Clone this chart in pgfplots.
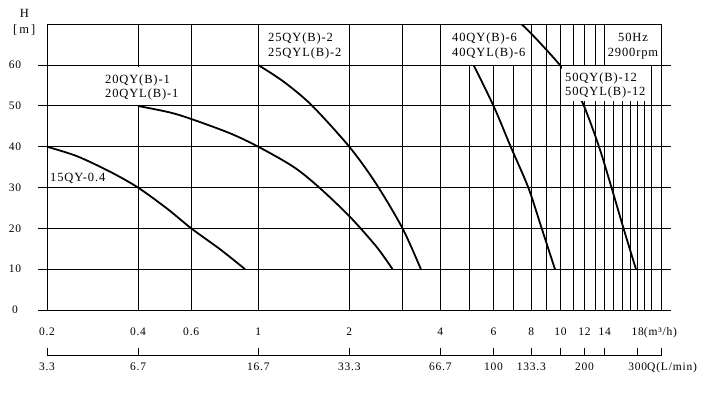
\documentclass[border=0pt]{standalone}
\usepackage{fontspec}
\setmainfont{Liberation Serif}[LetterSpace=7]
\usepackage{pgfplots}
\pgfplotsset{compat=1.18}

\begin{document}
\begin{tikzpicture}
\useasboundingbox (-47pt,-85pt) rectangle (674pt,310pt);
\begin{axis}[
  scale only axis, width=614.7pt, height=285.7pt,
  xmode=log, xmin=0.2, xmax=21.6, ymin=0, ymax=70,
  xtick={0.2,0.4,0.6,1,2,3,4,5,6,7,8,9,10,11,12,13,14,15,16,17,18,19,20},
  xticklabels={0.2,0.4,0.6,1,2,,4,,6,,8,,10,,12,,14,,,,18\rlap{(m³/h)},,},
  ytick={0,10,...,60},
  grid=major, major grid style={black, line width=0.9pt},
  axis line style={black, line width=0.9pt},
  xtick style={draw=none},
  ytick style={black, line width=0.9pt},
  tick align=outside, major tick length=9pt,
  /pgf/number format/assume math mode=true,
  tick label style={font=\fontsize{11.5}{13}\selectfont},
  xticklabel style={anchor=base, yshift=-16.5pt},
  yticklabel style={anchor=center, xshift=-23pt},
]
% 15QY-0.4
\addplot[black, line width=1.8pt, smooth] coordinates {
  (0.2,40) (0.251,37.7) (0.323,33.9) (0.4,30) (0.5,24.8) (0.6,20) (0.75,14.8) (0.904,10)};
% 20QY(B)-1
\addplot[black, line width=1.8pt, smooth] coordinates {
  (0.4,50) (0.51,48.4) (0.6,46.8) (0.806,43.3) (1,40) (1.306,35.1) (1.58,30.2) (2,23) (2.46,15.5) (2.78,10)};
% 25QY(B)-2
\addplot[black, line width=1.8pt, smooth] coordinates {
  (1,60) (1.21,56) (1.5,50.2) (2,40) (2.45,31) (3,20) (3.45,10)};
% 40QY(B)-6
\addplot[black, line width=1.8pt, smooth] coordinates {
  (5.0,62) (6,50) (6.84,40) (7.82,30) (8.66,20) (9.58,10)};
% 50QY(B)-12
\addplot[black, line width=1.8pt, smooth] coordinates {
  (7.44,70) (8.34,66.3) (10,59.8) (11,55) (11.95,50) (13.4,40) (14.74,30) (16.15,20) (17.76,10)};
\end{axis}

\begin{axis}[
  at={(0pt,-45pt)}, anchor=south west,
  scale only axis, width=614.7pt, height=20pt,
  xmode=log, xmin=0.2, xmax=21.6, ymin=0, ymax=1,
  axis x line=bottom, hide y axis,
  axis line style={black, line width=0.9pt, -},
  x axis line style={-},
  xtick={0.2,0.4,1,2,4,6,8,10,12,14,18,21.6},
  xticklabels={3.3,6.7,16.7,33.3,66.7,100,133.3,,200,,300\rlap{Q(L/min)},},
  tick align=inside, major tick length=7pt,
  xtick style={black, line width=0.9pt},
  tick label style={font=\fontsize{11.5}{13}\selectfont},
  xticklabel style={anchor=base, yshift=-16pt},
]
\end{axis}

% white label backgrounds
\fill[white] (53pt,204.6pt) rectangle (137pt,242.5pt);
\fill[white] (395pt,245.4pt) rectangle (473pt,284.7pt);
\fill[white] (558pt,245.4pt) rectangle (613.7pt,284.7pt);
\fill[white] (515pt,209pt) rectangle (601pt,244.4pt);

\tikzset{lab/.style={inner sep=0pt, font=\fontsize{12.5}{14}\selectfont}}
\node[lab, anchor=center] at (-22.5pt,296.3pt) {H};
\node[lab, anchor=center] at (-22.7pt,280pt) {[\,m\,]};
\node[lab, anchor=base west] at (3pt,128.5pt) {15QY-0.4};
\node[lab, anchor=base west] at (58pt,226.5pt) {20QY(B)-1};
\node[lab, anchor=base west] at (58pt,212.5pt) {20QYL(B)-1};
\node[lab, anchor=base west] at (221pt,268.5pt) {25QY(B)-2};
\node[lab, anchor=base west] at (221pt,253.5pt) {25QYL(B)-2};
\node[lab, anchor=base west] at (405pt,268.5pt) {40QY(B)-6};
\node[lab, anchor=base west] at (405pt,253.5pt) {40QYL(B)-6};
\node[lab, anchor=base] at (586pt,268.5pt) {50Hz};
\node[lab, anchor=base] at (586pt,253.5pt) {2900rpm};
\node[lab, anchor=base west] at (518pt,228pt) {50QY(B)-12};
\node[lab, anchor=base west] at (518pt,214pt) {50QYL(B)-12};
\end{tikzpicture}
\end{document}
